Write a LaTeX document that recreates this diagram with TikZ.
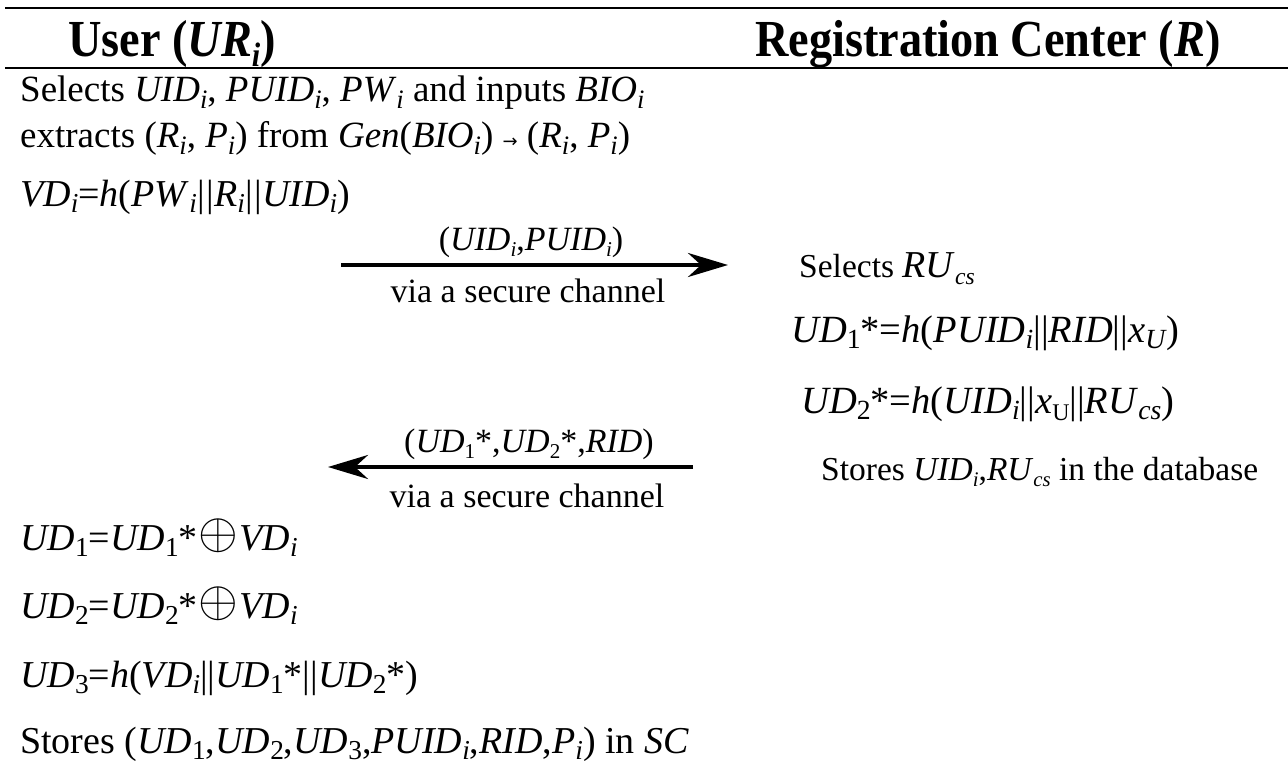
\documentclass[tikz,border=0pt]{standalone}
\usepackage{fontspec}
\setmainfont{Liberation Serif}
\newfontfamily\symf{DejaVu Sans}
\usetikzlibrary{arrows.meta}
\newdimen\sbd
\newcommand{\lo}[1]{\sbd=0.72\fontdimen6\font\raisebox{-0.17em}{\fontsize{\sbd}{\sbd}\selectfont #1}}
\newcommand{\los}[1]{\sbd=0.62\fontdimen6\font\raisebox{-0.2em}{\fontsize{\sbd}{\sbd}\selectfont #1}}
\newcommand{\hlo}[1]{\raisebox{-0.18em}{\fontsize{34}{34}\selectfont #1}}
\newcommand{\op}{\kern1pt\raisebox{2pt}{\scalebox{2.05}{$\oplus$}}\kern1pt}
\newcommand{\smarr}{{\symf\fontsize{18}{18}\selectfont →}}
\begin{document}
\begin{tikzpicture}[x=1pt,y=-1pt,
  txt/.style={anchor=base west,inner sep=0pt,font=\fontsize{38}{44}\selectfont},
  txtA/.style={anchor=base west,inner sep=0pt,font=\fontsize{37}{44}\selectfont},
  rtxt/.style={anchor=base west,inner sep=0pt,font=\fontsize{33.5}{40}\selectfont},
  rform/.style={anchor=base west,inner sep=0pt,font=\fontsize{38.5}{44}\selectfont},
  lbl/.style={anchor=base,inner sep=0pt,font=\fontsize{34}{40}\selectfont},
  hd/.style={anchor=base west,inner sep=0pt,font=\fontsize{52}{58}\selectfont\bfseries},
  rule/.style={line width=2pt},
  msg/.style={line width=4pt,-{Stealth[length=40pt,width=24pt,inset=13pt]}}]
\useasboundingbox (0,0) rectangle (1288,765);
% rules
\coordinate (t1) at (5,8);
\coordinate (t2) at (1288,8);
\coordinate (m1) at (5,68);
\coordinate (m2) at (1288,68);
\draw[rule] (t1) -- (t2);
\draw[rule] (m1) -- (m2);
% headers
\node[hd] (hu) at (68,57) {\scalebox{0.89}[1]{User (\textit{UR}\hlo{\textit{i}})}};
\node[hd] (hr) at (755,57) {\scalebox{0.89}[1]{Registration Center (\textit{R})}};
% user top
\node[txtA] (u1) at (20,102) {Selects \textit{UID}\lo{\textit{i}}, \textit{PUID}\lo{\textit{i}}, \textit{PW}\lo{\textit{i}} and inputs \textit{BIO}\lo{\textit{i}}};
\node[txtA] (u2) at (20,148) {extracts (\textit{R}\lo{\textit{i}}, \textit{P}\lo{\textit{i}}) from \textit{Gen}(\textit{BIO}\lo{\textit{i}}) \smarr{} (\textit{R}\lo{\textit{i}}, \textit{P}\lo{\textit{i}})};
\node[txt] (u3) at (20,206) {\textit{VD}\lo{\textit{i}}=\textit{h}(\textit{PW}\lo{\textit{i}}\kern1pt|\kern1pt|\textit{R}\lo{\textit{i}}\kern1pt|\kern1pt|\textit{UID}\lo{\textit{i}})};
% message 1
\coordinate (a1s) at (341,265);
\coordinate (a1e) at (728,265);
\draw[msg] (a1s) -- (a1e);
\node[lbl] (l1a) at (531,250) {(\textit{UID}\los{\textit{i}},\textit{PUID}\los{\textit{i}})};
\node[lbl] (l1b) at (528,302) {via a secure channel};
% registration center
\node[rtxt] (r1) at (799,277) {Selects {\fontsize{38}{44}\selectfont\textit{RU}\los{\textit{cs}}}};
\node[rform] (r2) at (791,342) {\textit{UD}\lo{1}*=\textit{h}(\textit{PUID}\lo{\textit{i}}||\textit{RID}||\textit{x}\lo{\textit{U}})};
\node[rform] (r3) at (801,413) {\textit{UD}\lo{2}*=\textit{h}(\textit{UID}\lo{\textit{i}}||\textit{x}\los{U}||\textit{RU}\lo{\textit{cs}})};
\node[rtxt] (r4) at (821,480) {Stores \textit{UID}\los{\textit{i}},\textit{RU}\los{\textit{cs}} in the database};
% message 2
\coordinate (a2s) at (693,467);
\coordinate (a2e) at (328,467);
\draw[msg] (a2s) -- (a2e);
\node[lbl] (l2a) at (529,452) {(\textit{UD}\los{1}*,\textit{UD}\los{2}*,\textit{RID})};
\node[lbl] (l2b) at (527,507) {via a secure channel};
% user bottom
\node[txt] (u4) at (20,550) {\textit{UD}\lo{1}=\textit{UD}\lo{1}*\op\textit{VD}\lo{\textit{i}}};
\node[txt] (u5) at (20,618) {\textit{UD}\lo{2}=\textit{UD}\lo{2}*\op\textit{VD}\lo{\textit{i}}};
\node[txt] (u6) at (20,687) {\textit{UD}\lo{3}=\textit{h}(\textit{VD}\lo{\textit{i}}||\textit{UD}\lo{1}*||\textit{UD}\lo{2}*)};
\node[txt] (u7) at (20,753) {Stores (\textit{UD}\lo{1},\textit{UD}\lo{2},\textit{UD}\lo{3},\textit{PUID}\lo{\textit{i}},\textit{RID},\textit{P}\lo{\textit{i}}) in \textit{SC}};
\end{tikzpicture}
\end{document}
